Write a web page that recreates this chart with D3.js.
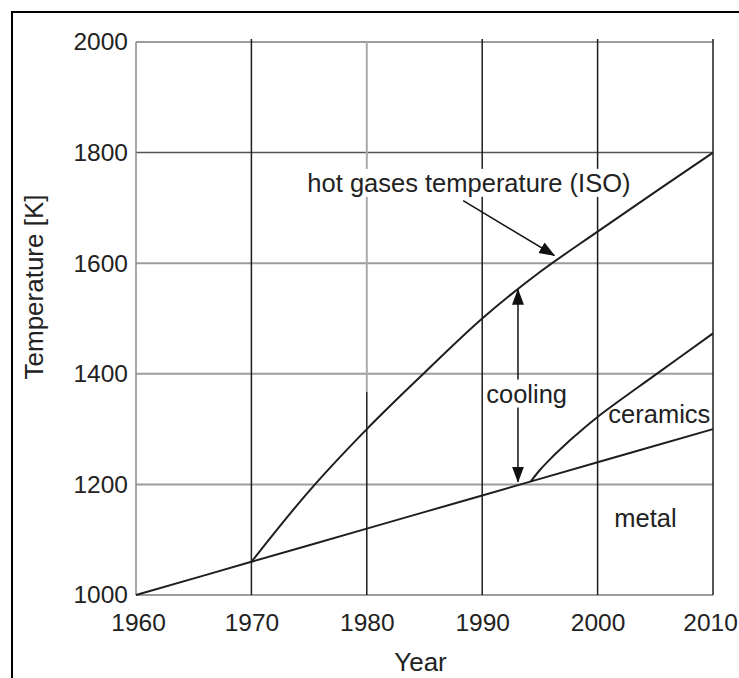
<!DOCTYPE html>
<html>

<head>
  <title>Turbine inlet temperature</title>
  <script src="https://cdn.jsdelivr.net/npm/d3@7/dist/d3.min.js"></script>
  <style>
    body {
      margin: 0;
      background: #fff;
      font-family: "Liberation Sans", Arial, sans-serif;
    }

    svg {
      display: block;
    }
  </style>
</head>

<body>
  <main id="container"></main>

  <script>
    // values
    const metalYears = [1960, 1970, 1980, 1990, 2000, 2010];
    const metalTemps = [1000, 1060, 1120, 1180, 1240, 1300];

    const gasYears = [1970, 1975, 1980, 1985, 1990, 1995, 2000, 2005, 2010];
    const gasTemps = [1060, 1188, 1300, 1402, 1500, 1584, 1657, 1729, 1800];

    const ceramicYears = [1994.2, 1995, 1996, 1997, 1998, 2000, 2005, 2010];
    const ceramicTemps = [1205, 1226, 1248, 1268, 1287, 1322, 1398, 1473];

    const xTicks = [1960, 1970, 1980, 1990, 2000, 2010];
    const yTicks = [1000, 1200, 1400, 1600, 1800, 2000];

    // cooling gap arrow: year, from / to temperature
    const coolingYear = 1993.1;
    const coolingTemps = [1205, 1552];

    // annotation arrow for the gas curve: [year, temp] start and tip
    const gasArrowFrom = [1988.35, 1713];
    const gasArrowTo = [1996.25, 1614];

    // setup
    const vizWidth = 739;
    const vizHeight = 678;
    const margin = { left: 136, top: 42, right: 26, bottom: 83 };
    const textColor = "#222";
    const dark = "#1e1e1e";
    const light = "#9c9c9c";

    const svg = d3.select("#container")
      .append("svg")
      .attr("width", vizWidth)
      .attr("height", vizHeight);

    const x = d3.scaleLinear()
      .domain([1960, 2010])
      .range([margin.left, vizWidth - margin.right]);

    const y = d3.scaleLinear()
      .domain([1000, 2000])
      .range([vizHeight - margin.bottom, margin.top]);

    // outer frame (only top and left edges show in the figure)
    svg.append("rect")
      .attr("x", 12)
      .attr("y", 12)
      .attr("width", 1000)
      .attr("height", 1000)
      .attr("fill", "none")
      .attr("stroke", "#000")
      .attr("stroke-width", 2);

    // grid
    const grid = svg.append("g");

    grid.selectAll("line.h")
      .data(yTicks)
      .join("line")
      .attr("class", "h")
      .attr("x1", x(1960))
      .attr("x2", x(2010))
      .attr("y1", d => y(d))
      .attr("y2", d => y(d))
      .attr("stroke", d => d === 1800 ? "#555" : light)
      .attr("stroke-width", d => d === 1800 ? 1.5 : 2);

    // 1980 line is light in its upper part, dark below
    const splitTemp = 1367;
    grid.selectAll("line.v")
      .data(xTicks.slice(1))
      .join("line")
      .attr("class", "v")
      .attr("x1", d => x(d))
      .attr("x2", d => x(d))
      .attr("y1", d => d === 1980 ? y(splitTemp) : y(2000) - 3)
      .attr("y2", y(1000))
      .attr("stroke", dark)
      .attr("stroke-width", 1.5);

    grid.append("line")
      .attr("x1", x(1980))
      .attr("x2", x(1980))
      .attr("y1", y(2000))
      .attr("y2", y(splitTemp))
      .attr("stroke", "#aaa")
      .attr("stroke-width", 2);

    grid.append("line")
      .attr("x1", x(1960))
      .attr("x2", x(1960))
      .attr("y1", y(2000))
      .attr("y2", y(1000))
      .attr("stroke", "#8a8a8a")
      .attr("stroke-width", 1.5);

    // axes (labels only)
    const axisX = svg.append("g")
      .attr("transform", `translate(0,${y(1000)})`)
      .call(d3.axisBottom(x).tickValues(xTicks).tickFormat(d3.format("d")).tickSize(0).tickPadding(19));

    const axisY = svg.append("g")
      .attr("transform", `translate(${x(1960)},0)`)
      .call(d3.axisLeft(y).tickValues(yTicks).tickFormat(d3.format("d")).tickSize(0).tickPadding(8));

    [axisX, axisY].forEach(a => {
      a.select(".domain").remove();
      a.selectAll("text")
        .attr("fill", textColor)
        .style("font-family", "Liberation Sans, Arial, sans-serif")
        .style("font-size", "24.5px");
    });
    axisX.selectAll("text").filter(d => d === 1960).attr("dx", 2);
    axisX.selectAll("text").filter(d => d === 2010).attr("dx", -3);

    // curves
    const line = d3.line()
      .x(d => x(d[0]))
      .y(d => y(d[1]))
      .curve(d3.curveCatmullRom.alpha(0.5));

    const series = [
      d3.zip(metalYears, metalTemps),
      d3.zip(gasYears, gasTemps),
      d3.zip(ceramicYears, ceramicTemps)
    ];

    svg.append("g")
      .selectAll("path")
      .data(series)
      .join("path")
      .attr("d", line)
      .attr("fill", "none")
      .attr("stroke", dark)
      .attr("stroke-width", 2);

    // arrow heads
    svg.append("defs")
      .append("marker")
      .attr("id", "head")
      .attr("viewBox", "0 -7 16 14")
      .attr("refX", 15)
      .attr("refY", 0)
      .attr("markerUnits", "userSpaceOnUse")
      .attr("markerWidth", 16)
      .attr("markerHeight", 14)
      .attr("orient", "auto-start-reverse")
      .append("path")
      .attr("d", "M0,-6L16,0L0,6Z")
      .attr("fill", "#111");

    svg.append("line")
      .attr("x1", x(coolingYear))
      .attr("x2", x(coolingYear))
      .attr("y1", y(coolingTemps[0]))
      .attr("y2", y(coolingTemps[1]))
      .attr("stroke", "#111")
      .attr("stroke-width", 1.5)
      .attr("marker-start", "url(#head)")
      .attr("marker-end", "url(#head)");

    svg.append("line")
      .attr("x1", x(gasArrowFrom[0]))
      .attr("y1", y(gasArrowFrom[1]))
      .attr("x2", x(gasArrowTo[0]))
      .attr("y2", y(gasArrowTo[1]))
      .attr("stroke", "#111")
      .attr("stroke-width", 1.5)
      .attr("marker-end", "url(#head)");

    // annotations, some on a white box that cuts the lines behind them
    const notes = [
      { text: "hot gases temperature (ISO)", year: 1988.85, temp: 1729, box: true },
      { text: "cooling", year: 1993.85, temp: 1348, box: true },
      { text: "ceramics", year: 2005.35, temp: 1311, box: false },
      { text: "metal", year: 2004.15, temp: 1123, box: false }
    ];

    const noteGroup = svg.append("g");
    notes.forEach(n => {
      const g = noteGroup.append("g");
      const t = g.append("text")
        .attr("x", x(n.year))
        .attr("y", y(n.temp))
        .attr("text-anchor", "middle")
        .attr("fill", textColor)
        .style("font-size", "25.5px")
        .text(n.text);
      if (n.box) {
        const b = t.node().getBBox();
        g.insert("rect", "text")
          .attr("x", b.x)
          .attr("y", b.y)
          .attr("width", b.width)
          .attr("height", b.height)
          .attr("fill", "#fff");
      }
    });

    // axis titles
    svg.append("text")
      .attr("x", (x(1960) + x(2010)) / 2 - 4)
      .attr("y", 671)
      .attr("text-anchor", "middle")
      .attr("fill", textColor)
      .style("font-size", "26px")
      .text("Year");

    svg.append("text")
      .attr("transform", "translate(43,287) rotate(-90)")
      .attr("text-anchor", "middle")
      .attr("fill", textColor)
      .style("font-size", "26px")
      .text("Temperature [K]");
  </script>
</body>

</html>
